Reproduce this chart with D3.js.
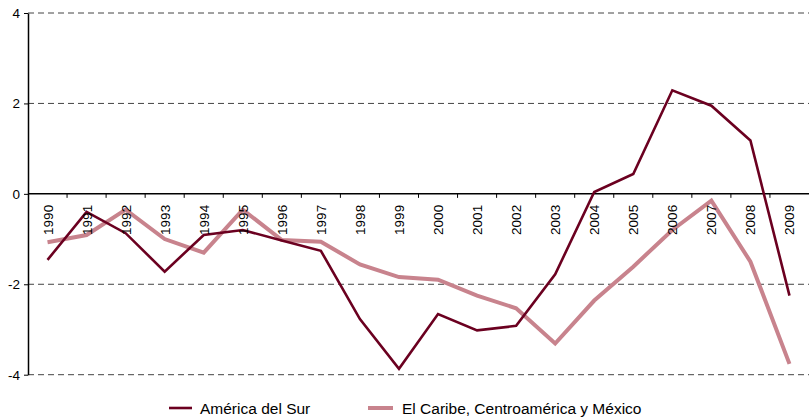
<!DOCTYPE html>
<html>
<head>
<meta charset="utf-8">
<script src="https://cdn.jsdelivr.net/npm/d3@7"></script>
<style>
  body { margin: 0; background: #fff; }
  text { font-family: "Liberation Sans", Arial, sans-serif; }
</style>
</head>
<body>
<div class="chart"></div>
<script>
// Data.
let years = ['1990', '1991', '1992', '1993', '1994', '1995', '1996', '1997', '1998', '1999',
             '2000', '2001', '2002', '2003', '2004', '2005', '2006', '2007', '2008', '2009'];
let surValues = [-1.46, -0.40, -0.87, -1.72, -0.91, -0.80, -1.03, -1.26, -2.77, -3.87,
                 -2.66, -3.02, -2.92, -1.78, 0.04, 0.44, 2.29, 1.95, 1.18, -2.25];
let caribeValues = [-1.07, -0.91, -0.35, -1.00, -1.30, -0.35, -1.02, -1.06, -1.56, -1.84,
                    -1.90, -2.25, -2.53, -3.31, -2.36, -1.61, -0.80, -0.15, -1.50, -3.76];
let yTicks = [-4, -2, 0, 2, 4];
let seriesNames = ['América del Sur', 'El Caribe, Centroamérica y México'];

// Build constants.
let width = 809,
    height = 419,
    margin = {top: 13, right: 0, bottom: 44, left: 28};

let colors = ['#6b0020', '#c8838d'];
let strokeWidths = [2.6, 4];

let svg = d3.select('.chart')
    .append('svg')
        .attr('width', width)
        .attr('height', height);

// Scales.
let x = d3.scaleBand()
    .domain(years)
    .range([margin.left, width - margin.right]);

let y = d3.scaleLinear()
    .domain([-4, 4])
    .range([height - margin.bottom - 0.3, margin.top]);

// Grid lines.
svg.append('g')
    .selectAll('line')
    .data(yTicks.filter(d => d !== 0))
    .join('line')
        .attr('x1', margin.left)
        .attr('x2', width - margin.right)
        .attr('y1', d => y(d))
        .attr('y2', d => y(d))
        .attr('stroke', '#444')
        .attr('stroke-width', 1)
        .attr('stroke-dasharray', '6,4');

// Y axis.
let yAxis = svg.append('g')
    .attr('transform', `translate(${margin.left},0)`)
    .call(d3.axisLeft(y).tickValues(yTicks).tickSize(4).tickSizeOuter(0).tickFormat(d3.format('d')));
yAxis.select('.domain').attr('stroke', '#000').attr('stroke-width', 1.5);
yAxis.selectAll('.tick line').attr('stroke', '#000');
yAxis.selectAll('.tick text')
    .attr('font-size', 13.5)
    .attr('fill', '#000')
    .attr('x', -8)
    .text(d => d < 0 ? '-' + Math.abs(d) : d);

// Zero line with ticks between categories.
let xAxis = svg.append('g')
    .attr('transform', `translate(0,${y(0)})`);
xAxis.append('line')
    .attr('x1', margin.left)
    .attr('x2', width - margin.right)
    .attr('stroke', '#000')
    .attr('stroke-width', 1.5);
xAxis.selectAll('.sep')
    .data(years.slice(1))
    .join('line')
        .attr('class', 'sep')
        .attr('x1', d => x(d))
        .attr('x2', d => x(d))
        .attr('y1', 0)
        .attr('y2', 4)
        .attr('stroke', '#000');

// Lines.
let line = d3.line()
    .x((d, i) => x(years[i]) + x.bandwidth() / 2)
    .y(d => y(d));

[caribeValues, surValues].forEach((vals, k) => {
    let idx = k === 0 ? 1 : 0;
    svg.append('path')
        .datum(vals)
        .attr('fill', 'none')
        .attr('stroke', colors[idx])
        .attr('stroke-width', strokeWidths[idx])
        .attr('stroke-linejoin', 'miter')
        .attr('d', line);
});

// Year labels, rotated.
svg.append('g')
    .selectAll('text')
    .data(years)
    .join('text')
        .attr('transform', d => `translate(${x(d) + x.bandwidth() / 2 + 5},${y(0) + 11}) rotate(-90)`)
        .attr('text-anchor', 'end')
        .attr('font-size', 13.5)
        .attr('fill', '#000')
        .text(d => d);

// Legend.
let legendX = [169, 368];
let legend = svg.append('g')
    .selectAll('g')
    .data(seriesNames)
    .join('g')
        .attr('transform', (d, i) => `translate(${legendX[i]},408)`);
legend.append('line')
    .attr('x1', 0)
    .attr('x2', (d, i) => i === 0 ? 23 : 25)
    .attr('stroke', (d, i) => colors[i])
    .attr('stroke-width', (d, i) => strokeWidths[i]);
legend.append('text')
    .attr('x', (d, i) => i === 0 ? 31 : 34)
    .attr('y', 5.5)
    .attr('font-size', 15.5)
    .attr('fill', '#000')
    .text(d => d);
</script>
</body>
</html>
